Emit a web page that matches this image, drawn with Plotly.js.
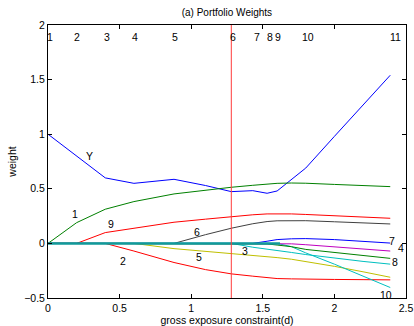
<!DOCTYPE html>
<html>
<head>
<meta charset="utf-8">
<script src="https://cdn.plot.ly/plotly-3.0.1.min.js"></script>
<style>html,body{margin:0;padding:0;background:#fff;}#chart{width:414px;height:326px;}</style>
</head>
<body>
<div id="chart"></div>
<script>
// gross exposure grid
var d = [0, 0.2, 0.4, 0.6, 0.88, 1.1, 1.28, 1.43, 1.53, 1.6, 1.7, 1.8, 2.0, 2.2, 2.39];
// portfolio weights per asset
var wY   = [1, 0.8, 0.6, 0.55, 0.587, 0.53, 0.474, 0.483, 0.459, 0.48, 0.585, 0.69, 0.98, 1.27, 1.54];
var w1   = [0, 0.19, 0.313, 0.383, 0.453, 0.49, 0.514, 0.532, 0.545, 0.55, 0.553, 0.551, 0.54, 0.53, 0.52];
var w9   = [0, 0, 0.099, 0.14, 0.194, 0.222, 0.245, 0.262, 0.27, 0.272, 0.27, 0.265, 0.252, 0.24, 0.23];
var w6   = [0, 0, 0, 0, 0, 0.08, 0.139, 0.18, 0.2, 0.207, 0.209, 0.208, 0.198, 0.188, 0.178];
var w2   = [0, 0, 0, -0.07, -0.175, -0.24, -0.279, -0.30, -0.315, -0.322, -0.325, -0.328, -0.33, -0.332, -0.334];
var w5   = [0, 0, 0, 0, -0.048, -0.072, -0.096, -0.11, -0.12, -0.13, -0.145, -0.165, -0.21, -0.26, -0.31];
var w3   = [0, 0, 0, 0, 0, 0, 0, -0.035, -0.055, -0.068, -0.083, -0.102, -0.135, -0.165, -0.19];
var w10  = [0, 0, 0, 0, 0, 0, 0, 0, 0, 0, -0.03, -0.087, -0.19, -0.30, -0.404];
var w4   = [0, 0, 0, 0, 0, 0, 0, 0, 0, 0, -0.004, -0.012, -0.03, -0.05, -0.07];
var w7   = [0, 0, 0, 0, 0, 0, 0, 0, 0.02, 0.035, 0.042, 0.044, 0.035, 0.02, 0.003];
var w8   = [0, 0, 0, 0, 0, 0, 0, 0, -0.005, -0.015, -0.03, -0.055, -0.085, -0.11, -0.137];
// zero-weight segment (assets not yet entered)
var zeroX = [0, 1.62];
var zeroY = [0, 0];
// chosen constraint
var dStar = 1.28;
var yRange = [-0.5, 2];

// labels
var topLabels = ["1","2","3","4","5","6","7","8","9","10","11"];
var topLabelX = [0.015, 0.204, 0.414, 0.606, 0.886, 1.29, 1.46, 1.553, 1.605, 1.815, 2.43];
var topLabelY = 1.89;
var curveLabels = ["Y","1","9","2","6","5","3","7","4","8","10"];
var curveLabelX = [0.29, 0.19, 0.443, 0.524, 1.038, 1.056, 1.376, 2.40, 2.465, 2.42, 2.36];
var curveLabelY = [0.80, 0.267, 0.178, -0.16, 0.102, -0.126, -0.066, 0.022, -0.04, -0.166, -0.47];

function ln(y, color, w) {
  return {x: d, y: y, type: 'scatter', mode: 'lines', line: {color: color, width: w || 1}, hoverinfo: 'skip', showlegend: false};
}
var traces = [
  ln(wY, '#0000ff'),
  ln(w1, '#008000'),
  ln(w9, '#ff0000'),
  ln(w6, '#404040'),
  ln(w2, '#ff0000'),
  ln(w5, '#bfbf00'),
  ln(w3, '#00bfbf'),
  ln(w10, '#00bfbf'),
  ln(w4, '#bf00bf'),
  ln(w8, '#008000'),
  ln(w7, '#0000ff'),
  {x: zeroX, y: zeroY, type: 'scatter', mode: 'lines', line: {color: '#109a9a', width: 2.5}, hoverinfo: 'skip', showlegend: false},
  {x: [dStar, dStar], y: yRange, type: 'scatter', mode: 'lines', line: {color: '#ff3b3b', width: 1}, hoverinfo: 'skip', showlegend: false}
];

var ann = [];
topLabels.forEach(function (t, i) {
  ann.push({x: topLabelX[i], y: topLabelY, text: t, showarrow: false, xref: 'x', yref: 'y',
    font: {family: 'Liberation Sans, Arial, sans-serif', size: 10.5, color: '#000'}});
});
curveLabels.forEach(function (t, i) {
  ann.push({x: curveLabelX[i], y: curveLabelY[i], text: t, showarrow: false, xref: 'x', yref: 'y',
    font: {family: 'Liberation Sans, Arial, sans-serif', size: 10.5, color: '#000'}});
});

var axFont = {family: 'Liberation Sans, Arial, sans-serif', size: 10.5, color: '#000'};
var layout = {
  width: 414, height: 326,
  margin: {l: 48, r: 8, t: 25, b: 28, pad: 0},
  paper_bgcolor: '#fff', plot_bgcolor: '#fff',
  font: axFont,
  title: {text: '(a) Portfolio Weights', font: {family: 'Liberation Sans, Arial, sans-serif', size: 10, color: '#000'},
    x: 0.548, xanchor: 'center', y: 0.963, yanchor: 'middle'},
  xaxis: {range: [0, 2.5], tickvals: [0, 0.5, 1, 1.5, 2, 2.5], ticktext: ['0','0.5','1','1.5','2','2.5'],
    ticks: 'inside', ticklen: 4, tickcolor: '#000', showline: true, linecolor: '#000', linewidth: 1, mirror: 'ticks',
    showgrid: false, zeroline: false, tickfont: axFont,
    title: {text: 'gross exposure constraint(d)', font: axFont, standoff: 2}},
  yaxis: {range: yRange, tickvals: [-0.5, 0, 0.5, 1, 1.5, 2], ticktext: ['\u22120.5','0','0.5','1','1.5','2'],
    ticks: 'inside', ticklen: 4, tickcolor: '#000', showline: true, linecolor: '#000', linewidth: 1, mirror: 'ticks',
    showgrid: false, zeroline: false, tickfont: axFont,
    title: {text: 'weight', font: axFont, standoff: 5}},
  annotations: ann
};

Plotly.newPlot('chart', traces, layout, {staticPlot: true, displayModeBar: false});
</script>
</body>
</html>
